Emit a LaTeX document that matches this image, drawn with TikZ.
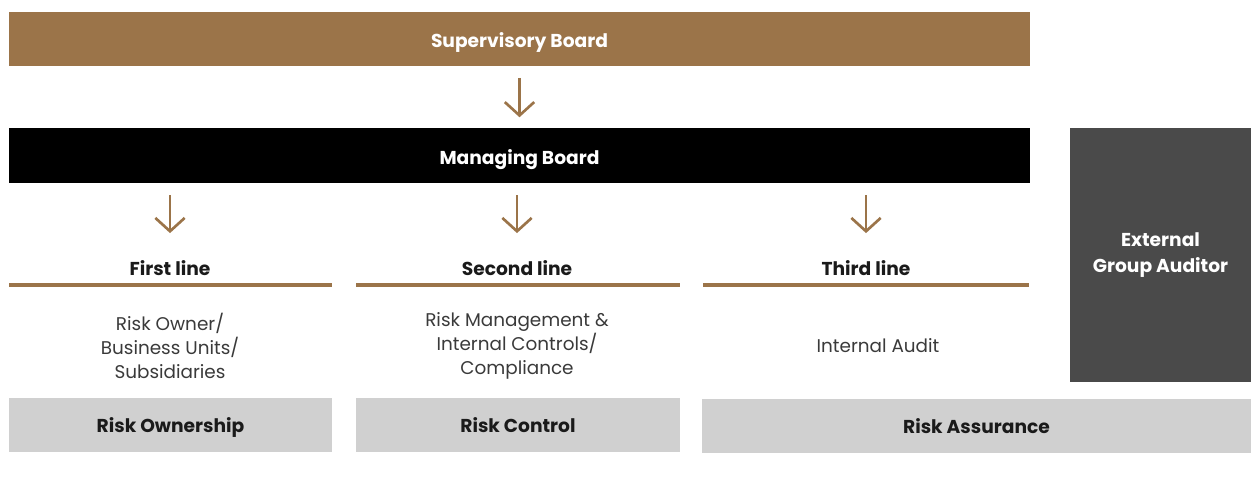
\documentclass[tikz,border=0pt]{standalone}
\usepackage{fontspec}
\setmainfont{Poppins}
\usepackage{xcolor}
\usetikzlibrary{arrows.meta,positioning}
\definecolor{riskbrown}{HTML}{9B7449}
\definecolor{riskdark}{HTML}{4A4A4A}
\definecolor{riskgray}{HTML}{D0D0D0}
\definecolor{riskink}{HTML}{1A1A1A}
\definecolor{risktext}{HTML}{3A3A3A}

\begin{document}
\begin{tikzpicture}[x=0.75pt,y=-0.75pt,
  board/.style={inner sep=0pt,text depth=0pt,minimum width=765.75pt,minimum height=41pt,text=white,font=\bfseries\fontsize{14}{15}\selectfont},
  band/.style={fill=riskgray,inner sep=0pt,text depth=0pt,minimum height=40.5pt,text=riskink,font=\bfseries\fontsize{14}{15}\selectfont},
  heading/.style={text=riskink,font=\bfseries\fontsize{14}{15}\selectfont},
  body/.style={align=center,text=risktext,font=\fontsize{13.8}{18}\selectfont},
  rule/.style={riskbrown,line width=2.6pt},
  arrow/.style={-{Straight Barb[length=10pt,width=22pt,line width=2pt]},riskbrown,line width=2pt}
]
\useasboundingbox (0,0) rectangle (1252,487);
\node[board,fill=riskbrown,text height=12pt] (supervisory) at (519.5,39) {Supervisory Board};
\node[board,fill=black,text height=14pt] (managing) at (519.5,155.5) {Managing Board};
\node[fill=riskdark,inner sep=0pt,minimum width=135.75pt,minimum height=190.5pt,align=center,text=white,font=\bfseries\fontsize{14}{19.5}\selectfont] (auditor) at (1160.5,255) {External\\Group Auditor};
% the three lines of defence
\node[heading] (first) at (170,268) {First line};
\node[heading] (second) at (517,268) {Second line};
\node[heading] (third) at (866,268) {Third line};
\draw[rule] (9,285) -- (332,285);
\draw[rule] (356,285) -- (680,285);
\draw[rule] (703,285) -- (1029,285);
\node[body] (owner) at (170,346) {Risk Owner/\\Business Units/\\Subsidiaries};
\node[body] (management) at (517,346) {Risk Management \&\\Internal Controls/\\Compliance};
\node[body] (audit) at (878,346) {Internal Audit};
\node[band,minimum width=242.25pt] (ownership) at (170.5,425) {Risk Ownership};
\node[band,minimum width=243pt] (control) at (518,425) {Risk Control};
\node[band,minimum width=411.75pt] (assurance) at (976.5,426) {Risk Assurance};
\draw[arrow,shorten <=8.5pt,shorten >=8pt] (supervisory) -- (managing);
\draw[arrow,shorten <=9pt,shorten >=17pt] (managing.south -| first.north) -- (first.north);
\draw[arrow,shorten <=9pt,shorten >=17pt] (managing.south -| second.north) -- (second.north);
\draw[arrow,shorten <=9pt,shorten >=17pt] (managing.south -| third.north) -- (third.north);
\end{tikzpicture}
\end{document}
